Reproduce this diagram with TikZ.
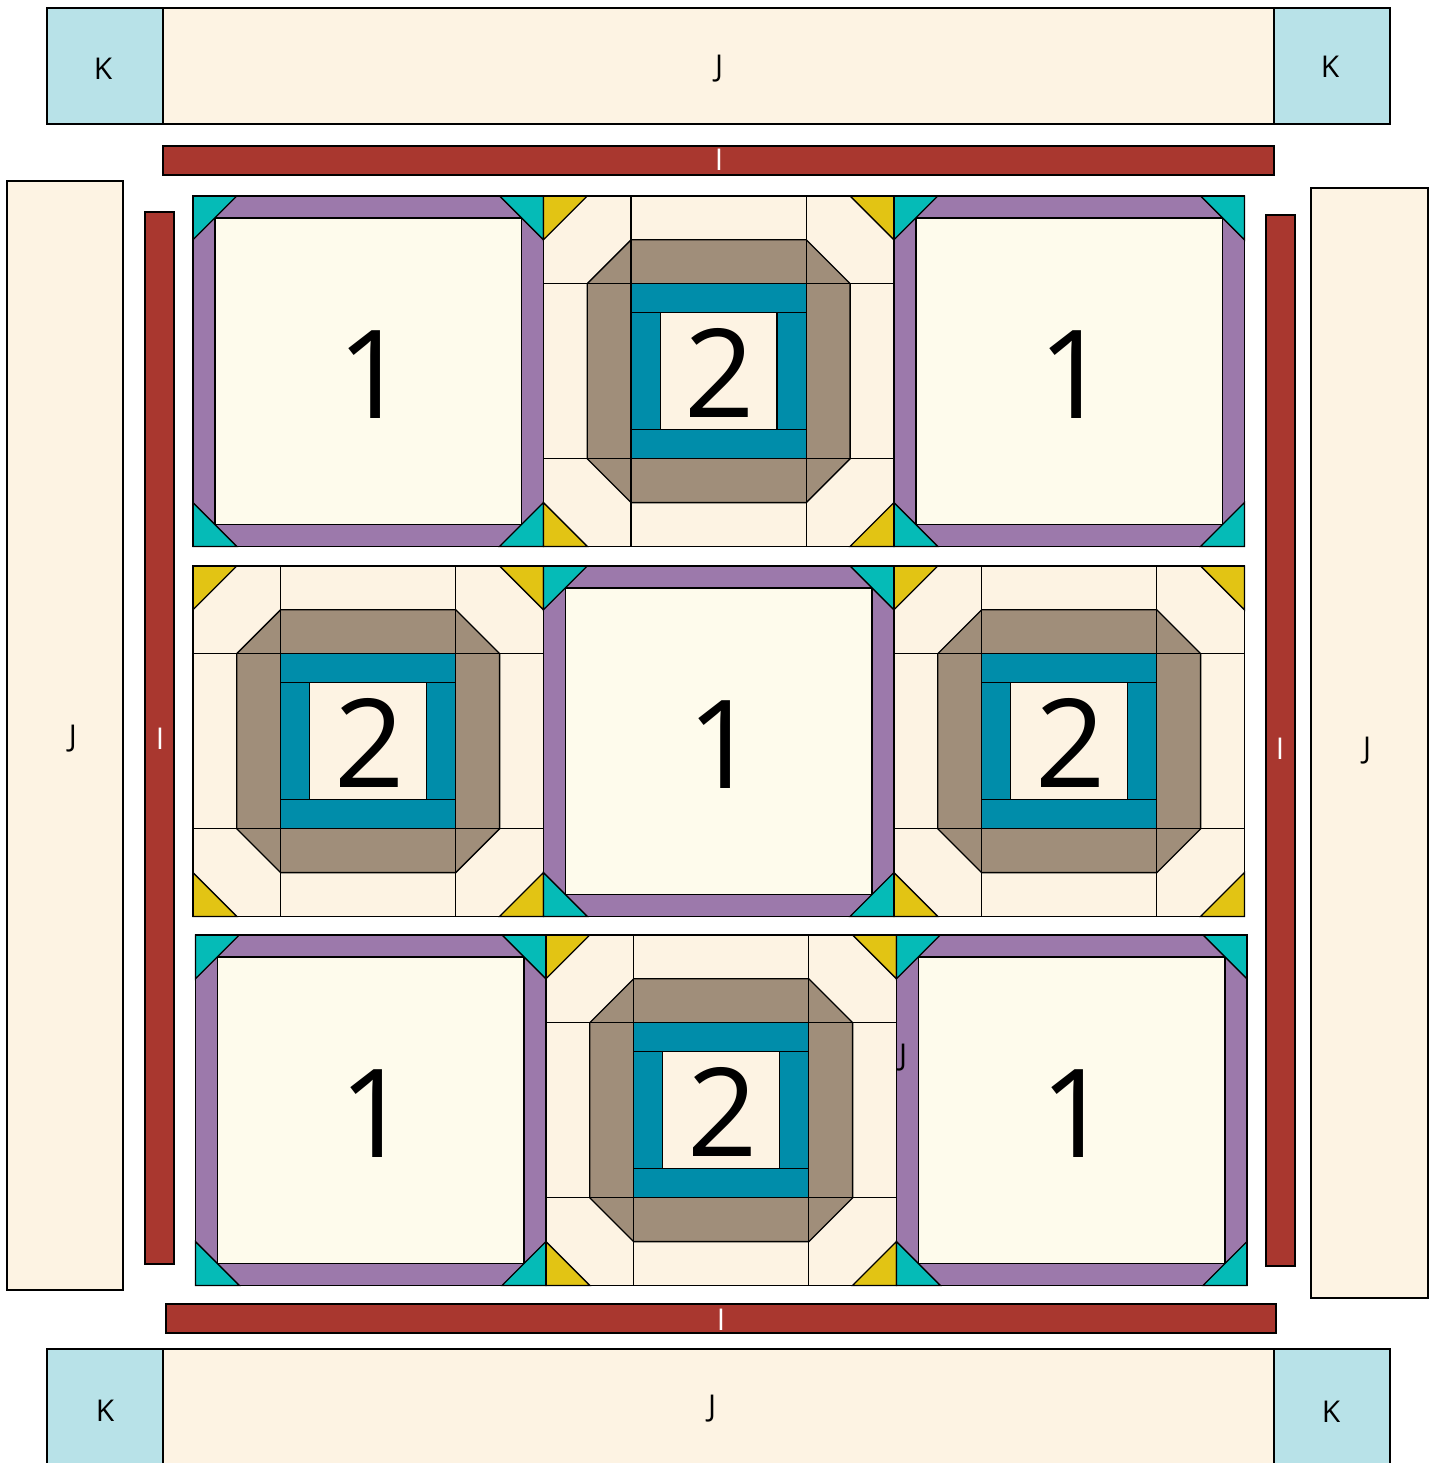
\documentclass[tikz,border=0pt]{standalone}
\usepackage{fontspec}
\setmainfont{Open Sans}
\definecolor{qK}{HTML}{B8E2E8}
\definecolor{qJ}{HTML}{FDF3E3}
\definecolor{qI}{HTML}{A9372F}
\definecolor{qinner}{HTML}{FEFBEC}
\definecolor{qpurple}{HTML}{9C79AB}
\definecolor{qteal}{HTML}{05BBB7}
\definecolor{qyellow}{HTML}{E2C414}
\definecolor{qtaupe}{HTML}{A08E7A}
\definecolor{qring}{HTML}{008DAA}
\tikzset{
  seam/.style={draw=black, line width=1.3pt, line join=miter},
  lbl/.style={font=\fontsize{30}{30}\selectfont, inner sep=0pt, text=black},
  wlbl/.style={lbl, text=white},
  big/.style={font=\fontsize{123}{123}\selectfont, inner sep=0pt, text=black}
}
\newcommand\qblockone[3]{%
\begin{scope}[shift={(#1pt,-#2pt)}, x=21.9pt, y=-21.9pt]
  \filldraw[seam, fill=qpurple] (0,0) rectangle (16,16);
  \filldraw[seam, fill=qinner] (1,1) rectangle (15,15);
  \filldraw[seam, fill=qteal] (0,0) -- (2,0) -- (0,2) -- cycle;
  \filldraw[seam, fill=qteal] (16,0) -- (14,0) -- (16,2) -- cycle;
  \filldraw[seam, fill=qteal] (0,16) -- (2,16) -- (0,14) -- cycle;
  \filldraw[seam, fill=qteal] (16,16) -- (14,16) -- (16,14) -- cycle;
  \draw[seam] (0,0) rectangle (16,16);
  \node[big] (#3) at (8.2,8.15) {1};
\end{scope}}
\newcommand\qblocktwo[3]{%
\begin{scope}[shift={(#1pt,-#2pt)}, x=21.9pt, y=-21.9pt]
  \filldraw[seam, fill=qJ] (0,0) rectangle (16,16);
  \filldraw[seam, fill=qtaupe] (4,2) -- (12,2) -- (14,4) -- (14,12) -- (12,14) -- (4,14) -- (2,12) -- (2,4) -- cycle;
  \draw[seam] (4,0) -- (4,16) (12,0) -- (12,16) (0,4) -- (16,4) (0,12) -- (16,12);
  \filldraw[seam, fill=qring] (4,4) rectangle (12,12);
  \filldraw[seam, fill=qJ] (5.333,5.333) rectangle (10.667,10.667);
  \draw[seam] (4,5.333) -- (12,5.333) (4,10.667) -- (12,10.667);
  \filldraw[seam, fill=qyellow] (0,0) -- (2,0) -- (0,2) -- cycle;
  \filldraw[seam, fill=qyellow] (16,0) -- (14,0) -- (16,2) -- cycle;
  \filldraw[seam, fill=qyellow] (0,16) -- (2,16) -- (0,14) -- cycle;
  \filldraw[seam, fill=qyellow] (16,16) -- (14,16) -- (16,14) -- cycle;
  \draw[seam] (0,0) rectangle (16,16);
  \node[big] (#3) at (8.05,8.1) {2};
\end{scope}}
\begin{document}
\begin{tikzpicture}[x=1pt, y=-1pt]
  \path[use as bounding box] (0,0) rectangle (1439,1463);
  \clip (0,0) rectangle (1439,1463);
  % top border
  \filldraw[seam, fill=qK] (47,8) rectangle (163,124);
  \filldraw[seam, fill=qJ] (163,8) rectangle (1274,124);
  \filldraw[seam, fill=qK] (1274,8) rectangle (1390,124);
  \node[lbl] (kTL) at (103,69) {K};
  \node[lbl] (jT) at (719,69) {J};
  \node[lbl] (kTR) at (1330,67) {K};
  % sashing strips I
  \filldraw[seam, fill=qI] (163,146) rectangle (1274,175);
  \node[wlbl] (iT) at (719,160) {I};
  \filldraw[seam, fill=qI] (145,212) rectangle (174,1264);
  \node[wlbl] (iL) at (160,739) {I};
  \filldraw[seam, fill=qI] (1266,215) rectangle (1295,1266);
  \node[wlbl] (iR) at (1280,749) {I};
  \filldraw[seam, fill=qI] (166,1304) rectangle (1276,1333);
  \node[wlbl] (iB) at (721,1320) {I};
  % side J strips
  \filldraw[seam, fill=qJ] (7,181) rectangle (123,1290);
  \node[lbl] (jL) at (73,739) {J};
  \filldraw[seam, fill=qJ] (1311,188) rectangle (1428,1298);
  \node[lbl] (jR) at (1367,751) {J};
  % bottom border
  \filldraw[seam, fill=qK] (47,1349) rectangle (163,1470);
  \filldraw[seam, fill=qJ] (163,1349) rectangle (1274,1470);
  \filldraw[seam, fill=qK] (1274,1349) rectangle (1390,1470);
  \node[lbl] (kBL) at (105,1411) {K};
  \node[lbl] (jB) at (712,1409) {J};
  \node[lbl] (kBR) at (1331,1412) {K};
  % blocks row 1
  \qblockone{193}{196}{b11}
  \qblocktwo{543.5}{196}{b12}
  \qblockone{894}{196}{b13}
  % row 2
  \qblocktwo{193}{566}{b21}
  \qblockone{543.5}{566}{b22}
  \qblocktwo{894}{566}{b23}
  % row 3
  \qblockone{195.5}{935}{b31}
  \qblocktwo{546}{935}{b32}
  \qblockone{896.5}{935}{b33}
  \node[lbl] (jStray) at (903,1058) {J};
\end{tikzpicture}
\end{document}
